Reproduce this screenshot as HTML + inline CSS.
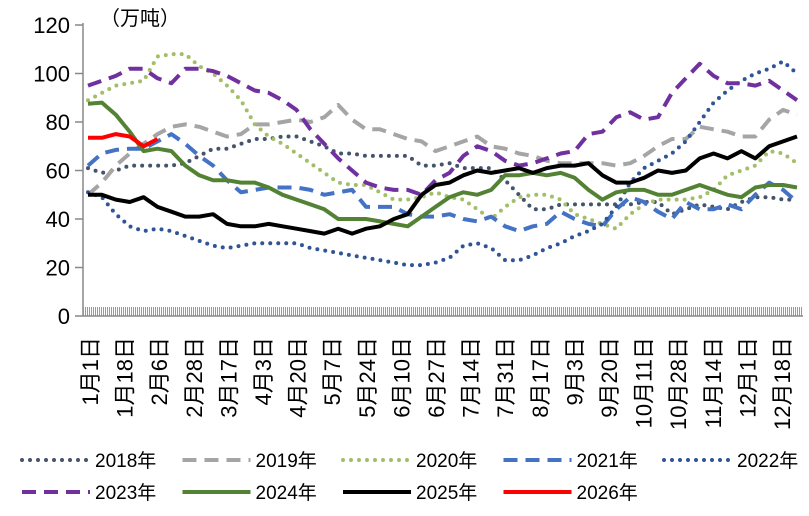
<!DOCTYPE html>
<html><head><meta charset="utf-8"><style>
body{margin:0;background:#fff;width:809px;height:511px;overflow:hidden}
text{font-family:"Liberation Sans","Noto Sans CJK SC",sans-serif}
</style></head><body>
<svg id="c" width="809" height="511" viewBox="0 0 809 511"></svg>
<script>
const categories=["1月1日","1月18日","2月6日","2月28日","3月17日","4月3日","4月20日","5月7日","5月24日","6月10日","6月27日","7月14日","7月31日","8月17日","9月3日","9月20日","10月11日","10月28日","11月14日","12月1日","12月18日"];
const yTicks=[0,20,40,60,80,100,120];
const s2018=[61,59,60,62,62,62,62,63,66,69,69,71,73,73,74,74,72,70,67,67,66,66,66,66,62,62,63,61,61,61,56,50,44,44,46,46,46,46,46,46,47,47,42,44,46,45,44,47,49,49,48,48];
const s2019=[50,55,62,67,71,75,78,79,78,76,74,75,79,79,80,81,80,82,87,81,77,77,75,73,72,68,70,72,74,70,69,67,66,64,63,63,63,63,62,63,66,70,73,73,78,77,76,74,74,81,85,83];
const s2020=[89,92,95,96,97,107,108,108,103,100,95,89,79,74,71,67,63,59,55,54,54,51,48,48,49,51,49,48,44,40,45,49,50,50,48,42,40,38,36,42,46,48,48,48,49,52,58,60,62,68,67,63];
const s2021=[62,67,68.5,69,69,72,75,71,66,62,56,51,52,53,53,53,52,50,51,52,45,45,45,42,41,41,42,40,39,41,37,35,37,38,43,40,38,37,44,49,47,43,40,47,44,44,46,44,50,55,52,47];
const s2022=[51,49,42,37,35,36,35,33,31,29,28,29,30,30,30,30,28,27,26,25,24,23,22,21,21,22,24,29,30,28,23,23,25,28,30,33,35,38,45,55,61,64,67,72,80,88,93,97,100,102,105,100];
const s2023=[95,97,99,102,102,98,96,102,102,101,99,96,93,92,89,85,77,71,65,60,55,53,52,52,50,56,59,66,70,68,64,62,63,65,67,68,75,76,82,84,81,82,92,98,104,99,96,96,95,97,93,89];
const s2024=[87.5,88,83,76,68,69,68,62,58,56,56,55,55,53,50,48,46,44,40,40,40,39,38,37,41,45,49,51,50,52,58,58,59,58,59,57,52,48,51,52,52,50,50,52,54,52,50,49,53,54,54,53];
const s2025=[50,50,48,47,49,45,43,41,41,42,38,37,37,38,37,36,35,34,36,34,36,37,40,42,50,54,55,58,60,59,60,61,59,61,62,62,63,58,55,55,57,60,59,60,65,67,65,68,65,70,72,74];
const s2026=[73.5,73.5,75,74,70,73];
const seriesNames=["2018年","2019年","2020年","2021年","2022年","2023年","2024年","2025年","2026年"];
const seriesData=[s2018,s2019,s2020,s2021,s2022,s2023,s2024,s2025,s2026];
const styles=[
 {c:"#44546A",d:"0 8"},{c:"#A5A5A5",d:"14 8"},{c:"#A3BE68",d:"0 8"},{c:"#4472C4",d:"14 8"},
 {c:"#2F5597",d:"0 8"},{c:"#7030A0",d:"14 8"},{c:"#548235",d:""},{c:"#000000",d:""},{c:"#FF0000",d:""}];
const NS="http://www.w3.org/2000/svg";
const svg=document.getElementById('c');
const X0=83,X1=803,Y0=316,Y120=25;
const N=52;
const xAt=i=>88+i*(797-88)/(N-1);
const yAt=v=>Y0-(v/120)*(Y0-Y120);
function mk(t,a,p){const e=document.createElementNS(NS,t);for(const k in a)e.setAttribute(k,a[k]);(p||svg).appendChild(e);return e;}
const defs=mk('defs',{});
const pat=mk('pattern',{id:'tk',width:2,height:9,patternUnits:'userSpaceOnUse',x:X0},defs);
mk('rect',{x:0,y:0,width:1,height:9,fill:'#999'},pat);
let e=mk('line',{x1:X0,y1:Y120-2,x2:X0,y2:Y0,stroke:'#888','stroke-width':1.5});


e=mk('rect',{x:X0,y:Y0-9,width:X1-X0,height:9,fill:'url(#tk)'});


e=mk('line',{x1:X0,y1:Y0,x2:X1,y2:Y0,stroke:'#888','stroke-width':1.5});


yTicks.forEach(v=>{
 const y=yAt(v);
 let t=mk('line',{x1:X0-8,y1:y,x2:X0,y2:y,stroke:'#888','stroke-width':1.5});
 
 
 let l=mk('text',{x:70,y:y+8,'text-anchor':'end','font-size':22,fill:'#000'});
 l.textContent=v;
 
 
});
e=mk('text',{x:100,y:25,'font-size':20,fill:'#000'});
e.textContent='（万吨）';


categories.forEach((c,i)=>{
 const x=90+i*34.6;
 let t=mk('text',{x:0,y:0,'text-anchor':'end','font-size':22,fill:'#000',transform:`translate(${x+8},337) rotate(-90)`});
 t.textContent=c;
 
 
});
seriesData.forEach((d,k)=>{
 const pts=d.map((v,i)=>xAt(i).toFixed(1)+','+yAt(v).toFixed(1)).join(' ');
 let p=mk('polyline',{points:pts,fill:'none',stroke:styles[k].c,'stroke-width':4,'stroke-linecap':styles[k].d.startsWith('0')?'round':'butt','stroke-linejoin':'round'});
 if(styles[k].d)p.setAttribute('stroke-dasharray',styles[k].d);
 
 
});
seriesNames.forEach((n,k)=>{
 const col=k%5,row=Math.floor(k/5);
 const x=22+col*160.5,y=row?492:460;
 const g=mk('g',{});
 
 
 let l=mk('line',{x1:x,y1:y,x2:x+68,y2:y,stroke:styles[k].c,'stroke-width':4,'stroke-linecap':styles[k].d.startsWith('0')?'round':'butt'},g);
 if(styles[k].d)l.setAttribute('stroke-dasharray',styles[k].d);
 let t=mk('text',{x:x+73,y:y+7,'font-size':19,fill:'#000'},g);
 t.textContent=n;
});
</script>
</body></html>
